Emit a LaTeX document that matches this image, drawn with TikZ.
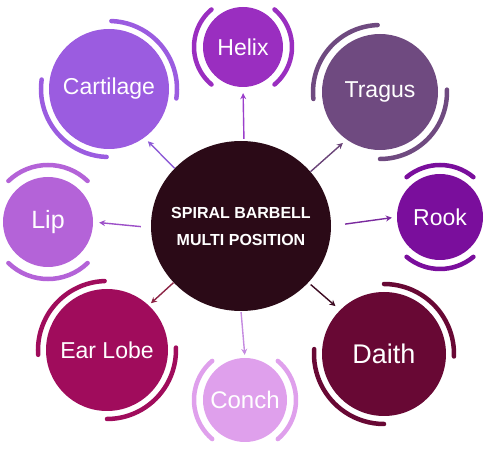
\documentclass[tikz,border=0pt]{standalone}
\usepackage{fontspec}
\setmainfont{Liberation Sans}
\usetikzlibrary{shapes.geometric,arrows.meta}
\definecolor{hubc}{HTML}{2B0A17}
\definecolor{helixc}{HTML}{9A2EC0}
\definecolor{cartc}{HTML}{9B5CE0}
\definecolor{tragc}{HTML}{6F4A80}
\definecolor{lipc}{HTML}{B463D8}
\definecolor{rookc}{HTML}{7A0E9C}
\definecolor{earc}{HTML}{A00C5C}
\definecolor{conchc}{HTML}{DFA0EC}
\definecolor{daithc}{HTML}{680834}
\definecolor{helixa}{HTML}{9B3FCB}
\definecolor{carta}{HTML}{8E5CD6}
\definecolor{traga}{HTML}{6A4478}
\definecolor{lipa}{HTML}{9C4FC8}
\definecolor{rooka}{HTML}{7A2A9E}
\definecolor{eara}{HTML}{8C2445}
\definecolor{concha}{HTML}{C58BE0}
\definecolor{daitha}{HTML}{3D0B22}
\begin{document}
\begin{tikzpicture}[x=1pt,y=-1pt,
  bubble/.style={circle,inner sep=0pt,text=white,font=\fontsize{23}{23}\selectfont},
  ring/.style={line width=4.5pt,line cap=round},
  arr/.style={line width=1.4pt,-{Stealth[length=6pt,width=6pt]}}]
\useasboundingbox (0,0) rectangle (488,449);
% hub
\node[shape=ellipse,fill=hubc,minimum width=180pt,minimum height=170pt,inner sep=0pt,
  label={[text=white,font=\bfseries\fontsize{16}{27}\selectfont,align=center]center:SPIRAL BARBELL\\MULTI POSITION}] (hub) at (241,226) {};
% outer bubbles
\node[bubble,fill=helixc,minimum size=80pt] (helix) at (243,47) {Helix};
\node[bubble,fill=cartc,minimum size=120pt] (cart) at (109,89) {Cartilage};
\node[bubble,fill=tragc,minimum size=116pt] (trag) at (380,92) {Tragus};
\node[bubble,fill=lipc,minimum size=90pt,font=\fontsize{25}{25}\selectfont] (lip) at (48,222) {Lip};
\node[bubble,fill=rookc,minimum size=86pt] (rook) at (440,217) {Rook};
\node[bubble,fill=earc,minimum size=122pt] (ear) at (107,350) {Ear Lobe};
\node[bubble,fill=conchc,minimum size=84pt,font=\fontsize{24}{24}\selectfont] (conch) at (245,400) {Conch};
\node[bubble,fill=daithc,minimum size=124pt,font=\fontsize{27}{27}\selectfont] (daith) at (384,354) {Daith};
% rings
\draw[ring,helixc] (helix.center) ++(130:49pt) arc[start angle=130,end angle=230,radius=49pt];
\draw[ring,helixc] (helix.center) ++(-50:49pt) arc[start angle=-50,end angle=50,radius=49pt];
\draw[ring,conchc] (conch.center) ++(130:51pt) arc[start angle=130,end angle=230,radius=51pt];
\draw[ring,conchc] (conch.center) ++(-50:51pt) arc[start angle=-50,end angle=50,radius=51pt];
\draw[ring,lipc] (lip.center) ++(46:57pt) arc[start angle=46,end angle=134,radius=57pt];
\draw[ring,lipc] (lip.center) ++(226:57pt) arc[start angle=226,end angle=314,radius=57pt];
\draw[ring,rookc] (rook.center) ++(50:52pt) arc[start angle=50,end angle=130,radius=52pt];
\draw[ring,rookc] (rook.center) ++(230:52pt) arc[start angle=230,end angle=310,radius=52pt];
\draw[ring,cartc] (cart.center) ++(-8:68pt) arc[start angle=-8,end angle=88,radius=68pt];
\draw[ring,cartc] (cart.center) ++(172:68pt) arc[start angle=172,end angle=268,radius=68pt];
\draw[ring,tragc] (trag.center) ++(92:67pt) arc[start angle=92,end angle=186,radius=67pt];
\draw[ring,tragc] (trag.center) ++(-90:67pt) arc[start angle=-90,end angle=2,radius=67pt];
\draw[ring,earc] (ear.center) ++(92:69pt) arc[start angle=92,end angle=184,radius=69pt];
\draw[ring,earc] (ear.center) ++(-90:69pt) arc[start angle=-90,end angle=2,radius=69pt];
\draw[ring,daithc] (daith.center) ++(-2:70pt) arc[start angle=-2,end angle=90,radius=70pt];
\draw[ring,daithc] (daith.center) ++(176:70pt) arc[start angle=176,end angle=270,radius=70pt];
% arrows
\draw[arr,helixa,shorten <=2pt,shorten >=6pt] (hub.88) -- (helix.270);
\draw[arr,carta,shorten >=5pt] (hub.139.5) -- (cart.-54);
\draw[arr,traga,shorten >=5pt] (hub.38) -- (trag.-125.6);
\draw[arr,lipa,shorten <=10pt,shorten >=6pt] (hub.181) -- (lip.0);
\draw[arr,rooka,shorten <=14pt,shorten >=5pt] (hub.0) -- (rook.180);
\draw[arr,eara,shorten >=3pt] (hub.220.5) -- (ear.47.5);
\draw[arr,concha,shorten <=1pt,shorten >=3pt] (hub.270) -- (conch.90);
\draw[arr,daitha,shorten <=3pt,shorten >=6pt] (hub.-40.3) -- (daith.135.6);
\end{tikzpicture}
\end{document}
